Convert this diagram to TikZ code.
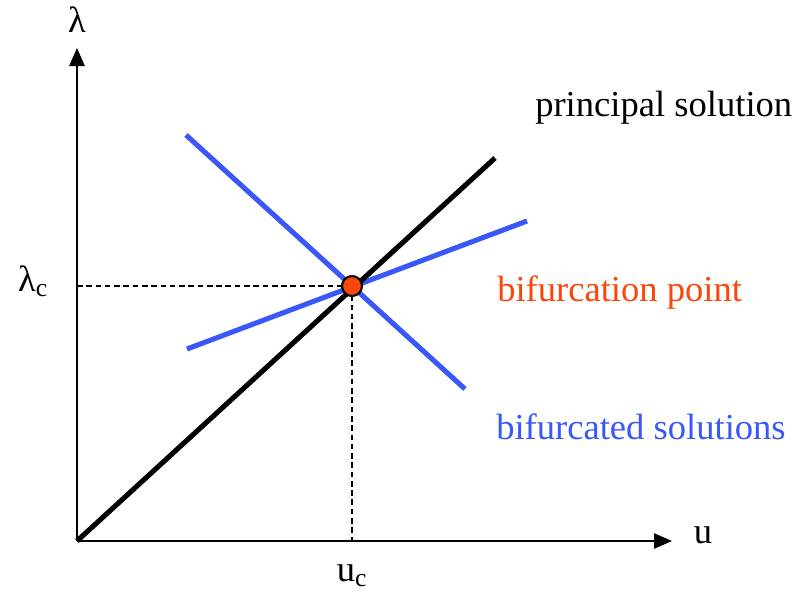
\documentclass[tikz,border=0pt]{standalone}
\usepackage{fontspec}
\setmainfont{Liberation Serif}
\usetikzlibrary{arrows.meta,positioning}
\definecolor{bifblue}{RGB}{58,88,250}
\definecolor{bifred}{RGB}{250,70,10}

\begin{document}
\begin{tikzpicture}[x=0.025cm,y=-0.025cm,
  axis/.style={line width=1.4pt,-{Triangle[length=0.45cm,width=0.38cm]}},
  principal/.style={line width=3.6pt,black},
  bifurcated/.style={line width=3.6pt,bifblue},
  guide/.style={dash pattern=on 4pt off 2.6pt,line width=1.1pt},
  label/.style={font=\fontsize{26}{31}\selectfont,inner sep=0pt}
]
  \useasboundingbox (0,0) rectangle (800,599);
  \coordinate (O) at (77,541);
  \coordinate (ytop) at (77,48);
  \coordinate (xend) at (672,541);
  \coordinate (P) at (352,286);
  \coordinate (lamc) at (77,286);
  \coordinate (uc) at (352,541);
  \coordinate (prinend) at (495,158);
  \coordinate (b1s) at (186,135);
  \coordinate (b1e) at (465,389);
  \coordinate (b2s) at (187,349);
  \coordinate (b2e) at (527,221);

  \draw[axis] (O) -- (ytop);
  \draw[axis] (O) -- (xend);
  \draw[guide] (lamc) -- (P);
  \draw[guide] (P) -- (uc);
  \draw[bifurcated] (b1s) -- (b1e);
  \draw[bifurcated] (b2s) -- (b2e);
  \draw[principal] (O) -- (prinend);
  \node[circle,draw,line width=1.5pt,fill=bifred,minimum size=0.5cm,inner sep=0pt] (bp) at (P) {};

  \node[label] (lam) at (77,20) {λ};
  \node[label] (u) at (703,535) {u};
  \node[label] (lamlab) at (33,281) {λ\textsubscript{c}};
  \node[label] (ulab) at (352,576) {u\textsubscript{c}};
  \node[label,anchor=west] (prin) at (535,108) {principal solution};
  \node[label,anchor=west,text=bifred] (bpt) at (497,293) {bifurcation point};
  \node[label,anchor=west,text=bifblue] (bsol) at (496,427) {bifurcated solutions};
\end{tikzpicture}
\end{document}
